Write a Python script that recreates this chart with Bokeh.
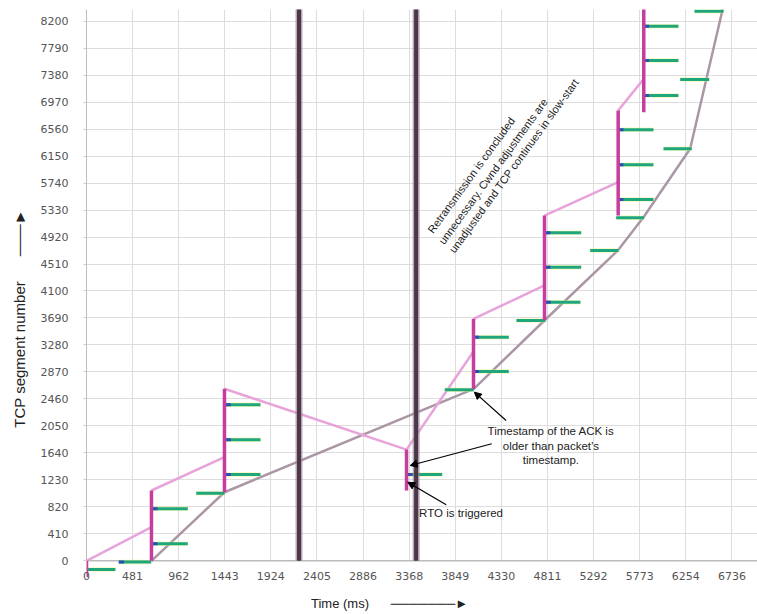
from bokeh.plotting import figure
from bokeh.models import Range1d, FixedTicker, Label, Arrow, NormalHead
from bokeh.embed import file_html
from bokeh.resources import INLINE

# ---- data ----
x_ticks = [0, 481, 962, 1443, 1924, 2405, 2886, 3368, 3849, 4330, 4811, 5292, 5773, 6254, 6736]
y_ticks = [0, 410, 820, 1230, 1640, 2050, 2460, 2870, 3280, 3690, 4100, 4510,
           4920, 5330, 5740, 6150, 6560, 6970, 7380, 7790, 8200]

# thick dark vertical markers (ms)
marker_x = [2218, 3440]

# pink "sent" line pieces
sent_x = [[0, 678], [678, 1440], [1440, 3340], [3340, 4039], [4039, 4780], [4780, 5549], [5549, 5816]]
sent_y = [[0, 511], [1068, 1574], [2614, 1690], [1690, 3180], [3677, 4184], [5247, 5753], [6842, 7324]]

# magenta bursts (vertical bars)
burst_x = [0, 678, 1440, 3340, 4039, 4780, 5549, 5816]
burst_lo = [-250, 0, 1042, 1068, 2614, 3660, 5247, 6817]
burst_hi = [0, 1068, 2614, 1690, 3677, 5247, 6842, 8500]

# gray ack line
ack_x = [678, 1440, 4042, 4790, 5545, 5813, 6300, 6635, 6660]
ack_y = [0, 1042, 2614, 3667, 4715, 5221, 6261, 8355, 8520]

# green horizontal segments
seg_x0 = [7, 337, 686, 686, 1145, 1451, 1451, 1451, 3347, 3739, 4042, 4042, 4487,
          4790, 4787, 4787, 5257, 5528, 5549, 5549, 5549, 6022, 5816, 6196, 5816, 5816, 6345]
seg_x1 = [302, 675, 1057, 1057, 1440, 1816, 1816, 1816, 3712, 4042, 4407, 4407, 4790,
          5155, 5163, 5163, 5552, 5820, 5917, 5917, 5917, 6317, 6178, 6499, 6178, 6178, 6648]
seg_y = [-132, -20, 258, 790, 1027, 1311, 1839, 2371, 1311, 2599, 2877, 3398, 3652,
         3930, 4462, 4984, 4715, 5212, 5490, 6018, 6550, 6261, 7071, 7314, 7603, 8124, 8352]
seg_tip = [0, 1, 1, 1, 0, 1, 1, 1, 1, 0, 1, 1, 0,
           1, 1, 1, 0, 0, 1, 1, 1, 0, 1, 0, 1, 1, 0]
tip_len = 55

NB = "\u00a0"
y_title = "TCP segment number" + NB * 6 + "\u2500" * 3 + "\u25ba" + NB * 12
x_title = "Time (ms)" + NB * 6 + "\u2500" * 7 + "\u25ba" + NB * 18

p = figure(width=757, height=614, output_backend="svg", toolbar_location=None,
           x_range=Range1d(0, 7003), y_range=Range1d(-254, 8378),
           min_border_left=86, min_border_right=0, min_border_top=9, min_border_bottom=37)
p.outline_line_color = None
p.background_fill_color = "white"

FONT = "Liberation Sans"

# axes
p.xaxis.ticker = FixedTicker(ticks=x_ticks)
p.yaxis.ticker = FixedTicker(ticks=y_ticks)
p.yaxis.bounds = (0, 8378)
p.xaxis.minor_tick_line_color = None
p.yaxis.minor_tick_line_color = None
p.xaxis.axis_line_color = None
p.xaxis.major_tick_line_color = None
p.xaxis.major_tick_out = 0
p.xaxis.major_tick_in = 0
p.xaxis.major_label_standoff = -6
p.xaxis.major_label_text_align = "left"
p.yaxis.axis_line_color = "#bbbbbb"
p.yaxis.major_tick_line_color = "#cccccc"
p.yaxis.major_tick_out = 3
p.yaxis.major_tick_in = 0
p.yaxis.major_label_standoff = 15
for ax in (p.xaxis, p.yaxis):
    ax.major_label_text_font = "DejaVu Sans"
    ax.major_label_text_font_size = "11px"
    ax.major_label_text_color = "#555555"
    ax.axis_label_text_font = FONT
    ax.axis_label_text_font_style = "normal"
    ax.axis_label_text_color = "#222222"
p.yaxis.axis_label = y_title
p.yaxis.axis_label_text_font_size = "15px"
p.yaxis.axis_label_standoff = 10
p.xaxis.axis_label = x_title
p.xaxis.axis_label_text_font_size = "13px"
p.xaxis.axis_label_standoff = 13
p.xgrid.ticker = FixedTicker(ticks=x_ticks)
p.ygrid.ticker = FixedTicker(ticks=y_ticks)
p.xgrid.grid_line_color = "#dddddd"
p.ygrid.grid_line_color = "#dddddd"
try:
    p.xgrid.cross_bounds = (0, 8378)
except Exception:
    pass

# zero line acting as x axis line
p.segment(x0=[0], y0=[0], x1=[7003], y1=[0], line_color="#bbbbbb", line_width=1.5)

# gray ack line
p.line(ack_x, ack_y, line_color="#ab96a6", line_width=2.5)

# pink sent line
p.multi_line(sent_x, sent_y, line_color="#e7a3da", line_width=2.5)

# green segments with yellow halo and blue tips
p.segment(x0=seg_x0, y0=seg_y, x1=seg_x1, y1=seg_y, line_color="#eef27a", line_width=4.5, line_alpha=0.5)
p.segment(x0=seg_x0, y0=seg_y, x1=seg_x1, y1=seg_y, line_color="#1fa67c", line_width=3)
tx0 = [x for x, t in zip(seg_x0, seg_tip) if t]
ty = [y for y, t in zip(seg_y, seg_tip) if t]
tx1 = [x + tip_len for x in tx0]
p.segment(x0=tx0, y0=ty, x1=tx1, y1=ty, line_color="#2a50b4", line_width=3)

# magenta bursts
p.segment(x0=burst_x, y0=burst_lo, x1=burst_x, y1=burst_hi, line_color="#c63d9e", line_width=3.5)

# dark markers
mlo = [0 for _ in marker_x]
mhi = [8600 for _ in marker_x]
p.segment(x0=marker_x, y0=mlo, x1=marker_x, y1=mhi, line_color="#9d8299", line_width=7, line_alpha=0.7)
p.segment(x0=marker_x, y0=mlo, x1=marker_x, y1=mhi, line_color="#4a3848", line_width=4)

# annotations
ann_color = "#222222"
rot_lines = ["Retransmission is concluded",
             "unnecessary. Cwnd adjustments are",
             "unadjusted and TCP continues in slow-start"]
rot_pos = [(3585, 5000), (3700, 4830), (3810, 4700)]
for txt, (lx, ly) in zip(rot_lines, rot_pos):
    p.add_layout(Label(x=lx, y=ly, text=txt, angle=0.9425, text_align="left",
                       text_baseline="middle", text_font=FONT, text_font_size="11px",
                       text_color=ann_color))

ts_lines = ["Timestamp of the ACK is", "older than packet\u2019s", "timestamp."]
ts_y = [1965, 1752, 1539]
for txt, ly in zip(ts_lines, ts_y):
    p.add_layout(Label(x=4847, y=ly, text=txt, text_align="center", text_baseline="middle",
                       text_font=FONT, text_font_size="11.5px", text_color=ann_color))
p.add_layout(Label(x=3471, y=729, text="RTO is triggered", text_align="left", text_baseline="middle",
                   text_font=FONT, text_font_size="11.5px", text_color=ann_color))

def arrow(x0, y0, x1, y1):
    p.add_layout(Arrow(x_start=x0, y_start=y0, x_end=x1, y_end=y1, line_color="black", line_width=1.2,
                       end=NormalHead(size=7, fill_color="black", line_color="black")))

arrow(4379, 2133, 4048, 2563)
arrow(4230, 1778, 3378, 1448)
arrow(3754, 851, 3353, 1194)

open("out.html", "w").write(file_html(p, INLINE))
